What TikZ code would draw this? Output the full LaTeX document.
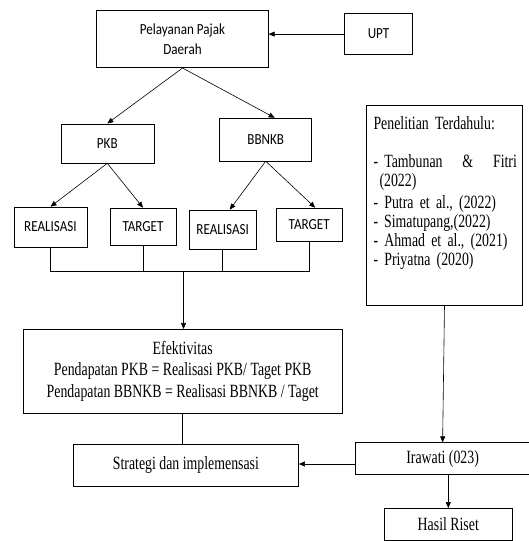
\documentclass[tikz,border=0pt]{standalone}
\usepackage{fontspec}
\setmainfont{Liberation Serif}[FakeStretch=0.74]
\newfontfamily\calibri{Carlito}[FakeStretch=0.85]
\usetikzlibrary{arrows.meta}

\begin{document}
\begin{tikzpicture}[x=1pt,y=-1pt]
\tikzstyle{box}=[draw, line width=0.6pt, inner sep=0pt]
\tikzstyle{sans}=[font=\calibri\fontsize{15.4}{19.3}\selectfont]
\tikzstyle{serif}=[font=\fontsize{18.7}{21.7}\selectfont]
\tikzstyle{arr}=[line width=0.6pt, -{Triangle[length=6pt,width=5pt]}]
\tikzstyle{line}=[line width=0.6pt]

\useasboundingbox (0,0) rectangle (529,541);

\draw (182.5,39.2) node[box, sans, minimum width=171.6, minimum height=57, align=center] (pelayanan) {Pelayanan Pajak\\Daerah};
\draw (378.5,34.1) node[box, sans, minimum width=67.5, minimum height=41.2] (upt) {UPT};
\draw (107.3,143.4) node[box, sans, minimum width=93, minimum height=39.2] (pkb) {PKB};
\draw (265.7,139.5) node[box, sans, minimum width=92, minimum height=42.8] (bbnkb) {BBNKB};
\draw (50.5,227) node[box, sans, minimum width=73, minimum height=40] (real1) {REALISASI};
\draw (143,226.5) node[box, sans, minimum width=66, minimum height=37] (target1) {TARGET};
\draw (222.7,229.5) node[box, sans, minimum width=66.5, minimum height=39] (real2) {REALISASI};
\draw (309.2,224.5) node[box, sans, minimum width=65.5, minimum height=33] (target2) {TARGET};

\draw (182.7,371.4) node[box, serif, minimum width=319.5, minimum height=84.3, align=center] (efek) {Efektivitas\\Pendapatan PKB = Realisasi PKB/ Taget PKB\\Pendapatan BBNKB = Realisasi BBNKB / Taget};
\draw (185.9,465) node[box, serif, minimum width=225.4, minimum height=42.1] (strategi) {Strategi dan implemensasi};

\draw (444.5,205.7) node[box, minimum width=155.6, minimum height=200] (penelitian) {};
\draw (373.3,116.5) node[anchor=north west, inner sep=0pt, text width=143.4, align=left, font=\fontsize{18.7}{19}\selectfont] (pentext) {Penelitian Terdahulu:\\[18.7pt]
- Tambunan\hfill\&\hfill Fitri\\
\hspace*{6pt}(2022)\\[3pt]
- Putra et al., (2022)\\
-\hspace{6pt}Simatupang,(2022)\\
- Ahmad et al., (2021)\\
- Priyatna (2020)};
\draw (442.6,458.5) node[box, serif, minimum width=173.8, minimum height=31.6] (irawati) {Irawati (023)};
\draw (448.3,524.2) node[box, serif, minimum width=128, minimum height=31.7] (hasil) {Hasil Riset};

% arrows at the top
\draw[arr] (upt.west) -- (upt.west -| pelayanan.east);
\draw[arr] (pelayanan.south) -- (pkb.north);
\draw[arr] (pelayanan.south) -- ([xshift=9pt]bbnkb.north);
\draw[arr] (pkb.south) -- (real1.north);
\draw[arr] (pkb.south) -- (target1.north);
\draw[arr] (bbnkb.south) -- ([xshift=7pt]real2.north);
\draw[arr] (bbnkb.south) -- ([xshift=6pt]target2.north);

% joining line
\coordinate (bus) at (183.5,271);
\draw[line] (real1.south) -- (real1.south |- bus) -- (target2.south |- bus) -- (target2.south);
\draw[line] (target1.south) -- (target1.south |- bus);
\draw[line] (real2.south) -- (real2.south |- bus);
\draw[arr] (bus) -- (bus |- efek.north);
\draw[line] (efek.south) -- (efek.south |- strategi.north);

% right side
\draw[arr] (penelitian.south) -- (irawati.north);
\draw[arr] ([yshift=-5.5pt]irawati.west) -- ([yshift=-5.5pt]irawati.west -| strategi.east);
\draw[arr] (hasil.north |- irawati.south) -- (hasil.north);
\end{tikzpicture}
\end{document}
